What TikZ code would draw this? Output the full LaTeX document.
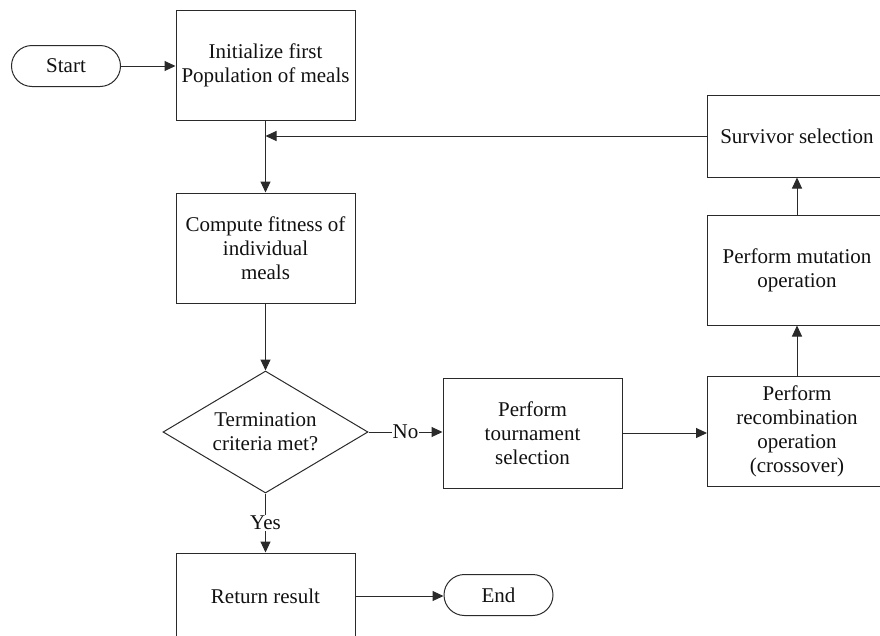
\documentclass[tikz,border=0pt]{standalone}
\usepackage{fontspec}
\setmainfont{Liberation Serif}
\usetikzlibrary{shapes.geometric,arrows.meta}
\definecolor{ln}{HTML}{2A2A2A}
\definecolor{tx}{HTML}{111111}
\begin{document}
\begin{tikzpicture}[x=1pt,y=-1pt,
  every node/.style={font=\fontsize{21}{24}\selectfont, text=tx, align=center},
  box/.style={draw=ln, line width=1pt, rectangle, minimum width=179pt, minimum height=110pt, inner sep=2pt},
  term/.style={draw=ln, line width=1pt, rectangle, rounded corners=20.5pt, minimum width=109pt, minimum height=41pt, inner sep=0pt},
  decision/.style={draw=ln, line width=1pt, diamond, shape aspect=1.68, minimum width=205pt, minimum height=122pt, inner sep=0pt},
  conn/.style={draw=ln, line width=1pt, -{Triangle[length=11pt,width=10pt]}},
  lbl/.style={fill=white, inner sep=1pt}
]
\useasboundingbox (0,0) rectangle (880,635);
\clip (0,0) rectangle (880,635);
\node[term] (start) at (66,66) {Start};
\node[box] (init) at (265.5,65.5) {Initialize first\\Population of meals};
\node[box] (comp) at (265.5,248) {Compute fitness of\\individual\\meals};
\node[decision] (dec) at (265.5,432) {Termination\\criteria met?};
\node[box, minimum height=86pt] (ret) at (265.5,596) {Return result};
\node[term] (end) at (498.5,595) {End};
\node[box] (tour) at (532.5,433) {Perform\\tournament\\selection};
\node[box] (rec) at (797,431) {Perform\\recombination\\operation\\(crossover)};
\node[box] (mut) at (797,270) {Perform mutation\\operation};
\node[box, minimum height=82pt] (surv) at (797,136) {Survivor selection};
\coordinate (fb) at (init.south |- surv.west);

\draw[conn] (start.east) -- (start.east -| init.west);
\draw[conn] (init) -- (comp);
\draw[conn] (surv.west) -- (fb);
\draw[conn] (comp) -- (dec);
\draw[conn] (dec.east) -- node[lbl] {No} (dec.east -| tour.west);
\draw[conn] (dec.south) -- node[lbl] {Yes} (ret.north);
\draw[conn] (tour.east) -- (tour.east -| rec.west);
\draw[conn] (rec) -- (mut);
\draw[conn] (mut) -- (surv);
\draw[conn] (ret.east) -- (ret.east -| end.west);
\end{tikzpicture}
\end{document}
